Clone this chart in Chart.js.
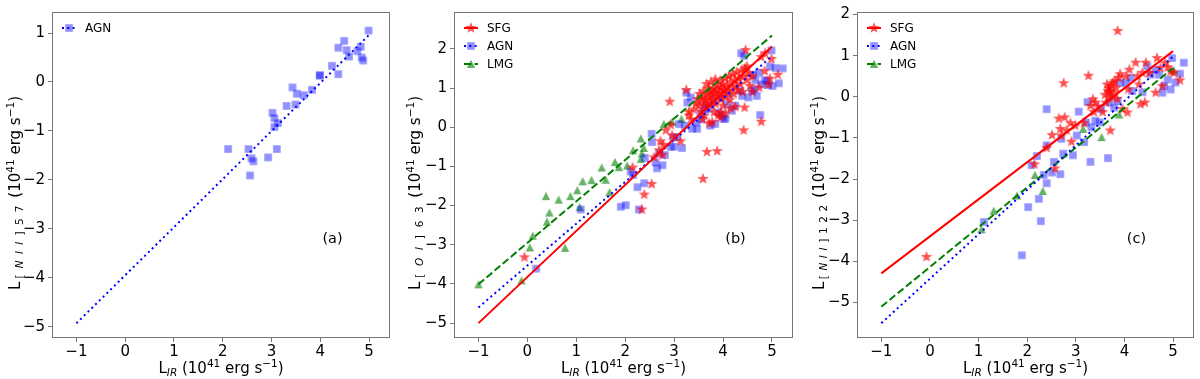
<!DOCTYPE html>
<html>
<head>
<meta charset="utf-8">
<script src="https://cdn.jsdelivr.net/npm/chart.js@4.4.1/dist/chart.umd.min.js"></script>
<style>
  html, body { margin: 0; padding: 0; background: #fff; }
  #wrap { position: relative; width: 1200px; height: 379px; overflow: hidden; }
  .panel { position: absolute; top: 0; width: 400px; height: 379px; }
</style>
</head>
<body>
<div id="wrap">
  <div class="panel" style="left:0px"><canvas id="chartA" width="400" height="379"></canvas></div>
  <div class="panel" style="left:400px"><canvas id="chartB" width="400" height="379"></canvas></div>
  <div class="panel" style="left:800px"><canvas id="chartC" width="400" height="379"></canvas></div>
</div>
<script>
/* ---- ticks ---- */
const xTicks   = [-1, 0, 1, 2, 3, 4, 5];
const yTicksA  = [-5, -4, -3, -2, -1, 0, 1];
const yTicksBC = [-5, -4, -3, -2, -1, 0, 1, 2];

/* ---- panel (a) : [NII]57 ---- */
const agnA = [[4.99,1.05],[4.49,0.84],[4.37,0.70],[4.54,0.65],[4.83,0.72],[4.76,0.63],[4.59,0.52],[4.85,0.50],[4.88,0.44],
  [4.24,0.33],[4.37,0.16],[3.99,0.13],[3.99,0.14],[3.83,-0.16],[3.66,-0.27],[3.43,-0.11],[3.52,-0.24],[3.49,-0.46],
  [3.31,-0.49],[3.02,-0.63],[3.06,-0.74],[3.13,-0.84],[3.06,-0.92],[2.11,-1.37],[2.53,-1.37],[3.11,-1.37],
  [2.59,-1.56],[2.63,-1.62],[2.93,-1.54],[2.56,-1.91]];
const fitA_AGN = [[-1,-4.93],[5,0.96]];

/* ---- panel (b) : [OI]63 ---- */
const sfgB = [[-0.06,-3.32],[2.15,-1.03],[2.34,-2.10],[2.39,-1.72],[2.54,-1.45],[2.59,-0.77],[2.69,-0.59],[2.76,-0.71],
  [2.72,-0.36],[2.78,-0.45],[2.83,-0.08],[2.91,0.65],[2.93,0.06],[2.96,-0.21],[3.13,-0.36],[3.25,0.95],[3.30,0.39],
  [3.59,-1.32],[3.67,-0.63],[3.88,-0.61],[3.78,0.13],[4.42,-0.08],[4.44,0.50],[4.78,0.14],[4.46,1.97],[4.49,1.55],
  [4.78,1.79],[4.86,1.89],[4.99,1.74],[4.85,1.43],[4.93,1.09],[5.12,1.34],[4.96,1.24],[4.74,1.01],[4.60,0.90],
  [4.25,0.52],[3.95,0.38],
  [3.40,0.45],[3.45,0.60],[3.48,0.72],[3.50,0.55],[3.52,0.85],[3.55,0.40],[3.57,0.68],[3.60,0.78],[3.60,0.92],
  [3.62,0.55],[3.64,0.70],[3.66,1.10],[3.68,0.85],[3.70,0.62],[3.70,0.98],[3.72,0.75],[3.74,0.90],[3.75,1.15],
  [3.76,0.55],[3.78,0.82],[3.80,1.00],[3.80,0.70],[3.82,0.88],[3.84,1.22],[3.85,0.60],[3.86,0.95],[3.88,0.78],
  [3.90,1.05],[3.90,0.30],[3.92,0.88],[3.94,1.18],[3.95,0.72],[3.96,1.00],[3.98,0.85],[4.00,1.10],[4.00,0.55],
  [4.02,0.95],[4.04,1.25],[4.05,0.78],[4.08,1.05],[4.10,0.90],[4.12,1.30],[4.14,0.70],[4.15,1.15],[4.18,1.00],
  [4.20,1.35],[4.22,0.85],[4.24,1.20],[4.26,1.05],[4.28,1.40],[4.30,0.95],[4.32,1.25],[4.35,1.10],[4.38,1.45],
  [4.40,0.90],[4.42,1.30],[4.45,1.50],[4.48,1.20],[4.52,1.38],[4.55,1.05],[4.60,1.30],[3.58,0.20],[3.72,0.10],
  [3.95,0.25],[3.82,0.38],[4.05,0.35],[4.15,0.48],[3.62,0.30],[3.30,0.30],[3.35,0.20]];
const agnB = [[0.18,-3.61],[1.09,-2.10],[1.91,-2.03],[2.01,-1.99],[2.28,-2.10],[2.25,-1.53],[2.39,-1.43],[2.11,-1.13],
  [2.16,-1.22],[2.40,-0.78],[2.62,-0.90],[2.76,-0.97],[2.65,-1.05],[2.54,-0.17],[2.55,-0.38],[2.69,-0.67],[2.81,-0.71],
  [2.93,-0.50],[3.00,-0.50],[3.16,-0.53],[2.98,-0.26],[3.06,-0.25],[3.10,0.08],[3.22,0.04],[3.25,0.88],[3.27,0.63],
  [3.34,0.76],[3.37,-0.04],[3.47,-0.04],[3.54,0.34],[3.63,0.46],[3.64,0.55],[3.71,0.47],[3.74,0.04],[3.84,0.08],
  [3.91,0.38],[3.98,0.30],[4.05,0.22],[4.01,0.21],[4.08,0.59],[4.18,0.42],[4.25,0.55],[4.35,0.93],[4.39,0.80],
  [4.52,0.76],[4.59,0.93],[4.64,0.97],[4.69,0.80],[4.76,0.31],[4.78,1.09],[4.90,1.18],[4.92,1.08],[4.85,1.20],
  [4.37,1.89],[4.43,1.82],[4.99,1.96],[4.96,1.55],[5.07,1.51],[5.22,1.50],[5.14,1.12],[5.01,1.05],[4.61,1.34],
  [4.66,1.20],[4.73,1.39],[3.80,0.65],[3.95,0.75],[4.12,0.85],[3.55,0.20],[3.45,0.12]];
const lmgB = [[-1.00,-4.01],[-0.12,-3.91],[0.05,-3.07],[0.11,-2.77],[0.38,-1.76],[0.45,-2.18],[0.40,-2.41],[0.64,-1.85],
  [0.77,-3.08],[0.88,-1.76],[1.02,-1.61],[1.07,-2.04],[1.13,-1.38],[1.31,-1.35],[1.52,-1.03],[1.60,-1.34],[1.68,-1.66],
  [1.79,-0.89],[1.87,-1.02],[2.04,-0.98],[2.16,-0.59],[2.32,-0.29],[2.34,-0.67],[2.38,-0.53],[2.32,-0.81],
  [2.79,0.08],[2.96,0.13],[3.15,0.21]];
const fitB_SFG = [[-1,-5.00],[5,2.06]];
const fitB_AGN = [[-1,-4.60],[5,1.81]];
const fitB_LMG = [[-1,-4.01],[5,2.34]];

/* ---- panel (c) : [NII]122 ---- */
const sfgC = [[-0.07,-3.89],[2.15,-1.64],[2.40,-1.24],[2.51,-0.93],[2.57,-1.74],[2.65,-0.53],[2.68,-0.78],[2.70,-0.94],
  [2.75,0.33],[2.77,-0.50],[2.81,-0.82],[2.89,-0.64],[2.91,-1.09],[2.99,-0.70],[3.17,-0.64],[3.26,0.51],[3.30,-0.22],
  [3.35,-0.06],[3.37,-0.37],[3.40,-0.14],[3.46,-0.24],[3.55,-0.37],[3.62,-0.14],[3.66,0.14],[3.69,-0.02],[3.71,-0.82],
  [3.72,0.26],[3.78,0.10],[3.76,0.34],[3.83,0.22],[3.86,1.60],[3.88,0.46],[3.91,0.55],[3.96,-0.30],[4.03,0.50],
  [4.06,-0.38],[4.08,0.18],[4.10,0.66],[4.23,0.83],[4.27,0.50],[4.30,0.30],[4.33,-0.18],[4.42,-0.14],[4.37,0.58],
  [4.44,0.83],[4.51,0.58],[4.64,0.10],[4.67,0.94],[4.74,0.70],[4.78,0.26],[4.84,0.82],[4.89,0.72],[4.95,0.62],
  [5.01,0.58],[5.14,0.40],[3.60,0.05],[3.68,0.20],[3.74,0.00],[3.80,0.38],[3.85,-0.05],[3.70,0.12],[3.64,0.30]];
const agnC = [[1.89,-3.85],[1.11,-3.04],[2.02,-2.68],[2.28,-3.02],[2.24,-2.48],[2.40,-2.10],[2.34,-1.90],[2.51,-1.84],
  [2.55,-1.58],[2.68,-1.88],[2.40,-0.30],[2.20,-1.44],[2.09,-1.66],[2.40,-1.18],[2.70,-1.02],[2.74,-1.38],[2.94,-1.42],
  [3.02,-0.94],[3.06,-0.36],[3.17,-1.10],[3.21,-0.62],[3.24,-0.13],[3.30,-1.58],[3.32,-0.74],[3.40,-0.58],[3.49,-0.62],
  [3.52,-0.30],[3.66,-1.49],[3.69,-0.14],[3.79,-0.26],[3.86,-0.10],[3.91,0.34],[4.03,0.34],[4.13,0.46],[4.16,0.14],
  [4.37,0.11],[4.47,0.74],[4.54,0.54],[4.64,0.66],[4.71,0.54],[4.78,0.10],[4.81,0.26],[4.89,0.42],[4.98,0.94],
  [5.05,0.35],[5.14,0.56],[5.22,0.83],[4.95,0.18]];
const lmgC = [[1.06,-3.22],[1.31,-2.77],[1.79,-2.40],[2.16,-1.90],[2.32,-2.29],[3.15,-0.78],[3.53,-0.98],[3.89,-0.43],[5.01,0.64]];
const fitC_SFG = [[-1,-4.29],[5,1.11]];
const fitC_AGN = [[-1,-5.50],[5,0.98]];
const fitC_LMG = [[-1,-5.10],[5,0.70]];

/* ---- styling ---- */
const FONT = 'DejaVu Sans';
const RED = '#ff0000', BLUE = '#0000ff', GREEN = '#008000';
const DOT = [2, 3.3], DASH = [7.4, 3.2];

function markerImg(kind, color) {
  const c = document.createElement('canvas');
  c.width = 14; c.height = 14;
  const g = c.getContext('2d');
  const m = 7;
  g.fillStyle = color;
  g.beginPath();
  if (kind === 'square') {
    g.rect(m - 3.8, m - 3.8, 7.6, 7.6);
  } else if (kind === 'star') {
    for (let i = 0; i < 10; i++) {
      const ang = -Math.PI / 2 + i * Math.PI / 5;
      const r = i % 2 ? 2.4 : 6;
      g.lineTo(m + r * Math.cos(ang), m + r * Math.sin(ang));
    }
    g.closePath();
  } else {
    g.moveTo(m, m - 4.2);
    g.lineTo(m - 4.2, m + 4);
    g.lineTo(m + 4.2, m + 4);
    g.closePath();
  }
  g.fill();
  return c;
}
const sqImg   = markerImg('square', 'rgba(0,0,255,0.43)');
const starImg = markerImg('star',   'rgba(255,0,0,0.68)');
const triImg  = markerImg('tri',    'rgba(0,128,0,0.6)');

const pts = arr => arr.map(([x, y]) => ({ x, y }));
const fmt = v => String(v).replace('-', '\u2212');

function scatterSet(arr, img, order) {
  return { data: pts(arr), pointStyle: img, pointRadius: 5, pointHoverRadius: 5, showLine: false, order };
}
function fitSet(arr, color, dash) {
  return { data: pts(arr), showLine: true, borderColor: color, borderWidth: 2, borderDash: dash,
           pointRadius: 0, fill: false, order: 0 };
}

/* string of segments with sub/superscripts, centred on (0,0), baseline at 0.
   if target is given, the subscript letters are spread so the whole string is that long */
function drawRich(ctx, segs, size, target) {
  const fontOf = s => (s.it ? 'italic ' : '') + ((s.sub || s.sup) ? size * 0.7 : size) + 'px "' + FONT + '"';
  let total = 0, nSub = 0;
  segs.forEach(s => {
    ctx.font = fontOf(s);
    s.w = ctx.measureText(s.t).width;
    total += s.w;
    if (s.sub) nSub += s.t.length;
  });
  const gap = target && nSub ? Math.max(0, (target - total) / nSub) : 0;
  const len = total + gap * nSub;
  let x = -len / 2;
  ctx.textBaseline = 'alphabetic';
  ctx.textAlign = 'left';
  segs.forEach(s => {
    ctx.font = fontOf(s);
    const dy = s.sub ? size * 0.22 : s.sup ? -size * 0.4 : 0;
    if (s.sub && gap) {
      for (const ch of s.t) {
        ctx.fillText(ch, x + gap / 2, dy);
        x += ctx.measureText(ch).width + gap;
      }
    } else {
      ctx.fillText(s.t, x, dy);
      x += s.w;
    }
  });
}

const xTitle = [{ t: 'L' }, { t: 'IR', sub: true, it: true }, { t: ' (10' }, { t: '41', sup: true },
                { t: ' erg s' }, { t: '\u22121', sup: true }, { t: ')' }];
function yTitle(sub) {
  return [{ t: 'L' }, { t: '[', sub: true }, { t: sub[0], sub: true, it: true }, { t: ']' + sub[1], sub: true },
          { t: ' (10' }, { t: '41', sup: true }, { t: ' erg s' }, { t: '\u22121', sup: true }, { t: ')' }];
}

const decoPlugin = {
  id: 'deco',
  afterDraw(chart, args, o) {
    const { ctx, chartArea: a } = chart;
    ctx.save();
    // frame
    ctx.strokeStyle = '#777';
    ctx.lineWidth = 1;
    ctx.strokeRect(a.left + 0.5, a.top + 0.5, a.right - a.left - 1, a.bottom - a.top - 1);
    ctx.fillStyle = '#000';
    // axis titles
    ctx.save();
    ctx.translate((a.left + a.right) / 2, 373);
    drawRich(ctx, xTitle, 15);
    ctx.restore();
    ctx.save();
    ctx.translate(o.yTitleX, 193);
    ctx.rotate(-Math.PI / 2);
    drawRich(ctx, o.yTitle, 15, 194);
    ctx.restore();
    // panel tag
    ctx.font = '14.5px "' + FONT + '"';
    ctx.textAlign = 'center';
    ctx.textBaseline = 'middle';
    ctx.fillText(o.tag, a.right - 57.5, 239);
    // legend
    o.legend.forEach((e, i) => {
      const y = a.top + 16 + i * 18;
      const mx = a.left + 17;
      ctx.save();
      ctx.strokeStyle = e.color;
      ctx.lineWidth = 2;
      ctx.setLineDash(e.dash);
      ctx.beginPath();
      ctx.moveTo(mx - 7, y);
      ctx.lineTo(mx + 7, y);
      ctx.stroke();
      ctx.restore();
      ctx.drawImage(e.img, mx - 7, y - 7);
      ctx.fillStyle = '#000';
      ctx.font = '12px "' + FONT + '"';
      ctx.textAlign = 'left';
      ctx.textBaseline = 'middle';
      ctx.fillText(e.label, a.left + 33, y + 1);
    });
    ctx.restore();
  }
};

function makeChart(id, datasets, yMin, yMax, yTicks, areaLeft, areaRight, deco) {
  const tickFont = { family: FONT, size: 15 };
  const axisCommon = {
    type: 'linear',
    grid: { display: true, drawOnChartArea: false, drawTicks: true, tickLength: 4, tickColor: '#777' },
    border: { display: false },
  };
  return new Chart(document.getElementById(id), {
    type: 'scatter',
    data: { datasets },
    options: {
      responsive: false,
      animation: false,
      events: [],
      layout: { padding: { left: 0, right: 400 - areaRight, top: 8, bottom: 0 } },
      plugins: { legend: { display: false }, tooltip: { enabled: false }, deco },
      scales: {
        x: Object.assign({}, axisCommon, {
          min: -1.5, max: 5.43,
          ticks: { color: '#000', font: tickFont, padding: 1, autoSkip: false, maxRotation: 0, callback: fmt },
          afterBuildTicks: s => { s.ticks = xTicks.map(v => ({ value: v })); },
          afterFit: s => { s.height = 41; }
        }),
        y: Object.assign({}, axisCommon, {
          min: yMin, max: yMax,
          ticks: { color: '#000', font: tickFont, padding: 3, autoSkip: false, callback: fmt },
          afterBuildTicks: s => { s.ticks = yTicks.map(v => ({ value: v })); },
          afterFit: s => { s.width = areaLeft; }
        })
      }
    },
    plugins: [decoPlugin]
  });
}

makeChart('chartA', [
  fitSet(fitA_AGN, BLUE, DOT),
  scatterSet(agnA, sqImg, 2)
], -5.23, 1.43, yTicksA, 52, 390, {
  yTitleX: 20, yTitle: yTitle(['NII', '57']), tag: '(a)',
  legend: [{ label: 'AGN', color: BLUE, dash: DOT, img: sqImg }]
});

makeChart('chartB', [
  fitSet(fitB_SFG, RED, []),
  fitSet(fitB_AGN, BLUE, DOT),
  fitSet(fitB_LMG, GREEN, DASH),
  scatterSet(sfgB, starImg, 1),
  scatterSet(agnB, sqImg, 2),
  scatterSet(lmgB, triImg, 3)
], -5.38, 2.94, yTicksBC, 54, 393, {
  yTitleX: 20, yTitle: yTitle(['OI', '63']), tag: '(b)',
  legend: [{ label: 'SFG', color: RED, dash: [], img: starImg },
           { label: 'AGN', color: BLUE, dash: DOT, img: sqImg },
           { label: 'LMG', color: GREEN, dash: DASH, img: triImg }]
});

makeChart('chartC', [
  fitSet(fitC_SFG, RED, []),
  fitSet(fitC_AGN, BLUE, DOT),
  fitSet(fitC_LMG, GREEN, DASH),
  scatterSet(sfgC, starImg, 1),
  scatterSet(agnC, sqImg, 2),
  scatterSet(lmgC, triImg, 3)
], -5.86, 2.06, yTicksBC, 57, 397, {
  yTitleX: 24, yTitle: yTitle(['NII', '122']), tag: '(c)',
  legend: [{ label: 'SFG', color: RED, dash: [], img: starImg },
           { label: 'AGN', color: BLUE, dash: DOT, img: sqImg },
           { label: 'LMG', color: GREEN, dash: DASH, img: triImg }]
});
</script>
</body>
</html>
